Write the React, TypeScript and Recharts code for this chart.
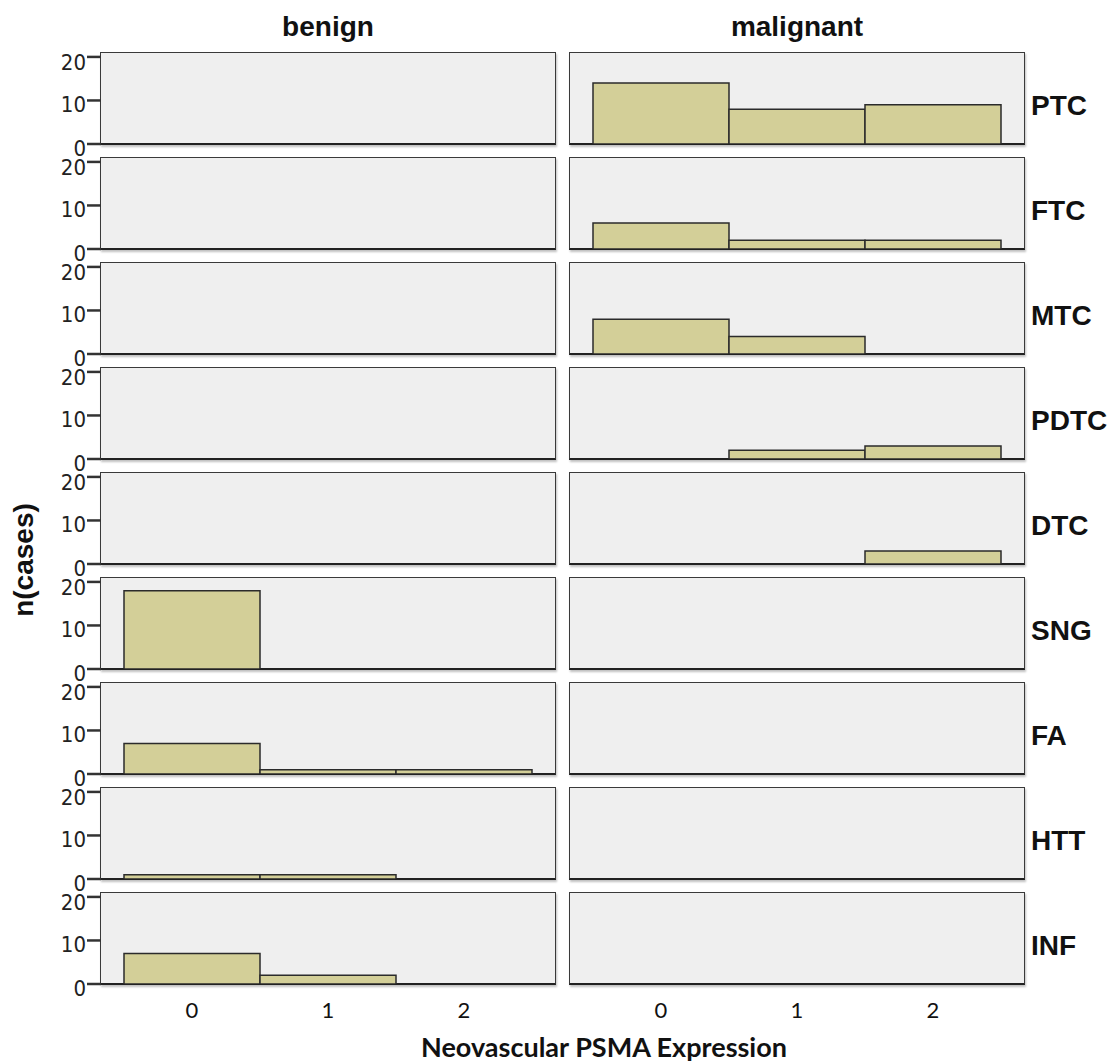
import { BarChart, Bar, XAxis, YAxis } from "recharts";

const levels = ["0", "1", "2"];
const subtypes = ["PTC", "FTC", "MTC", "PDTC", "DTC", "SNG", "FA", "HTT", "INF"];
const groups = ["benign", "malignant"];
const benignCounts = [
  [0, 0, 0],
  [0, 0, 0],
  [0, 0, 0],
  [0, 0, 0],
  [0, 0, 0],
  [18, 0, 0],
  [7, 1, 1],
  [1, 1, 0],
  [7, 2, 0],
];
const malignantCounts = [
  [14, 8, 9],
  [6, 2, 2],
  [8, 4, 0],
  [0, 2, 3],
  [0, 0, 3],
  [0, 0, 0],
  [0, 0, 0],
  [0, 0, 0],
  [0, 0, 0],
];
const yTicks = [0, 10, 20];

// panel geometry
const TOP0 = 53;
const PITCH = 105;
const PLOT_H = 91;
const PLOT_W = 454;
const PLOT_X = [101, 570];
const M = 4;

const BAR_FILL = "#d3cf98";
const BAR_STROKE = "#2b2b2b";
const BOLD = "'Liberation Sans', Arial, sans-serif";

const YTick = (props: any) => {
  const { x, y, payload } = props;
  return (
    <text
      x={x}
      y={y + 4.5}
      textAnchor="end"
      dominantBaseline="central"
      fontSize={22}
      fontFamily="'Liberation Sans Narrow', 'DejaVu Sans Condensed', sans-serif"
      fill="#222"
    >
      {payload.value}
    </text>
  );
};

function Panel({ row, col }: { row: number; col: number }) {
  const counts = col === 0 ? benignCounts[row] : malignantCounts[row];
  const data = levels.map((l, i) => ({ level: l, n: counts[i] }));
  const last = row === subtypes.length - 1;
  const plotTop = TOP0 + row * PITCH;
  const yW = col === 0 ? PLOT_X[0] : 0;
  const left = col === 0 ? 0 : PLOT_X[1] - 2;
  const xH = last ? 40 : 0;
  const mb = last ? M : 16;
  return (
    <>
      <div
        style={{
          position: "absolute",
          left: PLOT_X[col] - 1,
          top: plotTop - 1,
          width: PLOT_W + 2,
          height: PLOT_H + 2,
          boxSizing: "border-box",
          background: "#efefef",
          border: "1.5px solid #3a3a3a",
          borderBottom: "2.5px solid #222",
          boxShadow: "1px 2px 2px rgba(0,0,0,0.25)",
        }}
      />
      <div style={{ position: "absolute", left, top: plotTop - M, zIndex: 1 }}>
        <BarChart
          width={yW + PLOT_W + (col === 0 ? 2 : 4)}
          height={M + PLOT_H + xH + mb}
          data={data}
          barCategoryGap={0}
          margin={{ top: M, right: 2, bottom: mb, left: col === 0 ? 0 : 2 }}
        >
          <XAxis
            dataKey="level"
            type="category"
            hide={!last}
            height={xH}
            padding={{ left: 23, right: 23 }}
            axisLine={false}
            tickLine={false}
            tickSize={0}
            tickMargin={18}
            tick={{ fontSize: 22, fontFamily: "Lato, 'Open Sans', sans-serif", fill: "#111" }}
          />
          <YAxis
            hide={col !== 0}
            width={yW}
            domain={[0, 20.9]}
            ticks={yTicks}
            allowDataOverflow
            axisLine={false}
            tickSize={14}
            tickMargin={1}
            tickLine={{ stroke: "#333", strokeWidth: 2.5 }}
            tick={<YTick />}
          />
          <Bar
            dataKey="n"
            fill={BAR_FILL}
            stroke={BAR_STROKE}
            strokeWidth={1.5}
            isAnimationActive={false}
          />
        </BarChart>
      </div>
      {col === 1 && (
        <div
          style={{
            position: "absolute",
            left: 1031,
            top: plotTop + 39,
            fontFamily: BOLD,
            fontWeight: "bold",
            fontSize: 28,
            lineHeight: 1,
            color: "#111",
            whiteSpace: "nowrap",
          }}
        >
          {subtypes[row]}
        </div>
      )}
    </>
  );
}

export default function App() {
  return (
    <div
      style={{
        position: "absolute",
        left: 0,
        top: 0,
        width: 1113,
        height: 1064,
        background: "#fff",
        overflow: "hidden",
      }}
    >
      {groups.map((g, c) => (
        <div
          key={g}
          style={{
            position: "absolute",
            left: PLOT_X[c],
            width: PLOT_W,
            top: 13,
            textAlign: "center",
            fontFamily: BOLD,
            fontWeight: "bold",
            fontSize: 28,
            lineHeight: 1,
            color: "#111",
          }}
        >
          {g}
        </div>
      ))}
      {subtypes.map((s, r) => (
        <div key={s}>
          <Panel row={r} col={0} />
          <Panel row={r} col={1} />
        </div>
      ))}
      <div
        style={{
          position: "absolute",
          left: 24,
          top: 560,
          transform: "translate(-50%, -50%) rotate(-90deg)",
          fontFamily: BOLD,
          fontWeight: "bold",
          fontSize: 28,
          lineHeight: 1,
          color: "#111",
          whiteSpace: "nowrap",
        }}
      >
        n(cases)
      </div>
      <div
        style={{
          position: "absolute",
          left: 604,
          top: 1033,
          transform: "translateX(-50%)",
          fontFamily: "Lato, 'Open Sans', sans-serif",
          fontWeight: "bold",
          fontSize: 27,
          lineHeight: 1,
          color: "#111",
          whiteSpace: "nowrap",
        }}
      >
        Neovascular PSMA Expression
      </div>
    </div>
  );
}
